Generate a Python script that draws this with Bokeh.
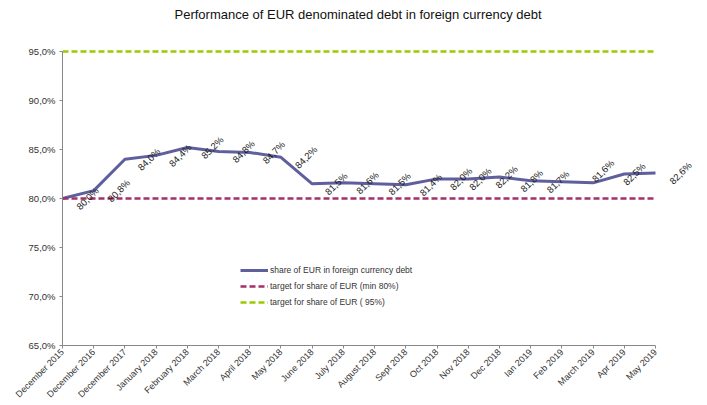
from bokeh.plotting import figure
from bokeh.models import FixedTicker, LabelSet, ColumnDataSource, Legend, LegendItem
from bokeh.embed import file_html
from bokeh.resources import INLINE
from bokeh.core.properties import value
import math

# ---- data ----
categories = ["December 2015", "December 2016", "December 2017", "January 2018",
              "February 2018", "March 2018", "April 2018", "May 2018", "June 2018",
              "July 2018", "August 2018", "Sept 2018", "Oct 2018", "Nov 2018",
              "Dec 2018", "Ian 2019", "Feb 2019", "March 2019", "Apr 2019", "May 2019"]
eur_share = [80.0, 80.8, 84.0, 84.4, 85.2, 84.8, 84.7, 84.2, 81.5, 81.6,
             81.5, 81.4, 82.0, 82.0, 82.2, 81.8, 81.7, 81.6, 82.5, 82.6]
target_min = 80.0
target_max = 95.0
y_ticks = [65, 70, 75, 80, 85, 90, 95]
y_tick_labels = ["65,0%", "70,0%", "75,0%", "80,0%", "85,0%", "90,0%", "95,0%"]

# label placement tweaks (screen pixels), as in the original chart
label_dx = [25, 25, 24, 24, 25, 25, 24, 25, 24, 24, 25, 25, 24, 12, 7, 1, -4, 10, 10, 25]
label_dy = [0, 0, 0, 0, 0, 0, 0, 0, 0, 0, 0, 0, 0, 0, 0, 0, 0, 12, 0, 0]

FONT = "Liberation Sans"
TXT = "#333333"

n = len(categories)
xs = list(range(n))
src = ColumnDataSource(dict(
    x=xs, y=eur_share,
    lo=[target_min] * n, hi=[target_max] * n,
    lbl=[f"{v:.1f}".replace(".", ",") + "%" for v in eur_share],
    dx=label_dx, dy=label_dy,
))

# frame: left 62, right 700 (last category at 655); top 26, bottom 345 (65% at 345, 95% at 51)
unit = (655 - 62) / (n - 1)
x_end = (700 - 62) / unit
y_lo, y_hi = y_ticks[0], y_ticks[-1]
y_end = y_lo + (345 - 26) * (y_hi - y_lo) / (345 - 51)

p = figure(width=707, height=405, output_backend="svg", toolbar_location=None,
           x_range=(0, x_end), y_range=(y_lo, y_end),
           min_border_left=62, min_border_right=7, min_border_top=26, min_border_bottom=60)
p.title.text = "Performance of EUR denominated debt in foreign currency debt"
p.title.align = "left"
p.title.offset = 112
p.title.text_font = FONT
p.title.text_font_size = "13px"
p.title.text_font_style = "normal"
p.title.text_color = "#111111"
p.title.standoff = 9

p.grid.visible = False
p.outline_line_color = None

r1 = p.line("x", "y", source=src, line_color="#5F5F9E", line_width=3)
r2 = p.line("x", "lo", source=src, line_color="#A3306A", line_width=2.5, line_dash="6 3")
r3 = p.line("x", "hi", source=src, line_color="#99CC00", line_width=2.5, line_dash="6 3")

labels = LabelSet(x="x", y="y", text="lbl", source=src, x_offset="dx", y_offset="dy",
                  angle=math.pi / 4, text_align="center", text_baseline="middle",
                  text_font=value(FONT), text_font_size="9.5px", text_color="#1a1a1a")
p.add_layout(labels)

p.xaxis.ticker = FixedTicker(ticks=xs)
p.xaxis.bounds = (0, n - 1)
p.xaxis.major_label_overrides = {i: c for i, c in enumerate(categories)}
p.xaxis.major_label_orientation = math.pi / 4
p.yaxis.ticker = FixedTicker(ticks=y_ticks)
p.yaxis.bounds = (y_lo, y_hi)
p.yaxis.major_label_overrides = {t: l for t, l in zip(y_ticks, y_tick_labels)}
for ax in (p.xaxis[0], p.yaxis[0]):
    ax.axis_line_color = "#888888"
    ax.major_tick_line_color = "#888888"
    ax.major_tick_out = 3
    ax.major_tick_in = 0
    ax.minor_tick_line_color = None
    ax.major_label_text_font = FONT
    ax.major_label_text_color = TXT
p.xaxis.major_label_text_font_size = "9px"
p.xaxis.major_label_standoff = 2
p.yaxis.major_label_text_font_size = "9.5px"
p.yaxis.major_label_standoff = 4

legend = Legend(items=[
    LegendItem(label="share of EUR in foreign currency debt", renderers=[r1]),
    LegendItem(label="target for share of EUR (min 80%)", renderers=[r2]),
    LegendItem(label="target for share of EUR ( 95%)", renderers=[r3]),
], location=(178, 35))
legend.background_fill_alpha = 0
legend.border_line_color = None
legend.padding = 0
legend.margin = 0
legend.spacing = 0
legend.label_height = 16
legend.glyph_height = 16
legend.glyph_width = 28
legend.label_standoff = 2
legend.label_text_font = FONT
legend.label_text_font_size = "8.5px"
legend.label_text_color = TXT
p.add_layout(legend)

open("out.html", "w").write(file_html(p, INLINE))
